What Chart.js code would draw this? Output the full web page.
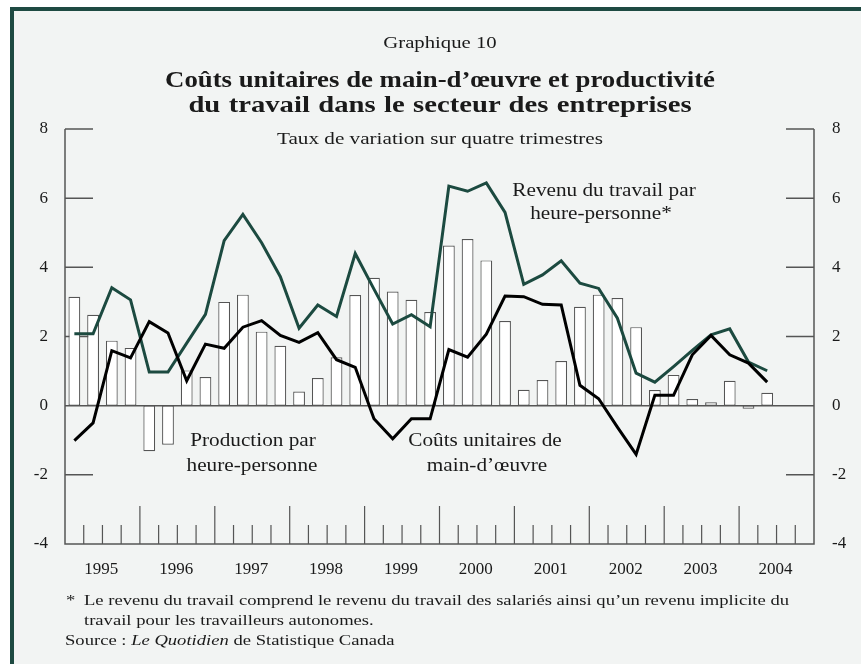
<!DOCTYPE html>
<html>
<head>
<meta charset="utf-8">
<script src="https://cdn.jsdelivr.net/npm/chart.js@4"></script>
<style>
  body { margin: 0; background: #fff; }
  #page { position: relative; width: 861px; height: 664px; overflow: hidden; background: #fff;
          font-family: "Liberation Serif", "Times New Roman", serif; color: #1a1a1a; }
  #frame { position: absolute; left: 10px; top: 7px; width: 900px; height: 700px;
           border: 4px solid #1e4a42; background: #f2f4f3; }
  canvas { position: absolute; left: 0; top: 0; }
  .t { position: absolute; white-space: nowrap; transform: translate(-50%, -50%) scaleX(1.18); text-align: center; }
  .n { position: absolute; white-space: nowrap; font-size: 15.5px; transform-origin: left center;
       transform: translateY(-50%) scaleX(1.2); }
</style>
</head>
<body>
<div id="page">
  <div id="frame"></div>
  <canvas id="chart" width="861" height="664"></canvas>

  <div class="t" style="left:440px; top:43px; font-size:17px; transform: translate(-50%, -50%) scaleX(1.22);">Graphique 10</div>
  <div class="t" style="left:440px; top:79px; font-size:23.5px; font-weight:bold; transform: translate(-50%, -50%) scaleX(1.14);">Coûts unitaires de main-d’œuvre et productivité</div>
  <div class="t" style="left:440px; top:104px; font-size:23.5px; font-weight:bold; word-spacing:1px; transform: translate(-50%, -50%) scaleX(1.22);">du travail dans le secteur des entreprises</div>
  <div class="t" style="left:440px; top:138px; font-size:17.5px; transform: translate(-50%, -50%) scaleX(1.21);">Taux de variation sur quatre trimestres</div>

  <div class="t" style="left:604px; top:190px; font-size:18px;">Revenu du travail par</div>
  <div class="t" style="left:601px; top:213px; font-size:18px;">heure-personne*</div>
  <div class="t" style="left:253px; top:440px; font-size:18px;">Production par</div>
  <div class="t" style="left:252px; top:465px; font-size:18px;">heure-personne</div>
  <div class="t" style="left:485px; top:440px; font-size:18px;">Coûts unitaires de</div>
  <div class="t" style="left:487px; top:465px; font-size:18px;">main-d’œuvre</div>

  <div class="n" style="left:66px; top:600px;">*</div>
  <div class="n" style="left:84px; top:600px;">Le revenu du travail comprend le revenu du travail des salariés ainsi qu’un revenu implicite du</div>
  <div class="n" style="left:84px; top:620px;">travail pour les travailleurs autonomes.</div>
  <div class="n" style="left:65px; top:640px;">Source : <i>Le Quotidien</i> de Statistique Canada</div>
</div>

<script>
const years = ['1995', '1996', '1997', '1998', '1999', '2000', '2001', '2002', '2003', '2004']
const yTicks = [-4, -2, 0, 2, 4, 6, 8]

// 1995T1 .. 2004T2, taux de variation sur quatre trimestres
const production = [3.15, 2.63, 1.88, 1.67, -1.32, -1.13, 1.02, 0.83, 3.00, 3.21,
                    2.14, 1.73, 0.41, 0.80, 1.40, 3.20, 3.70, 3.30, 3.06, 2.71,
                    4.63, 4.82, 4.20, 2.45, 0.46, 0.74, 1.29, 2.86, 3.21, 3.11,
                    2.27, 0.45, 0.89, 0.19, 0.10, 0.72, -0.09, 0.37]
const revenu = [2.08, 2.08, 3.41, 3.06, 0.97, 0.97, 1.81, 2.64, 4.77, 5.53,
                4.71, 3.73, 2.24, 2.91, 2.58, 4.40, 3.37, 2.36, 2.63, 2.28,
                6.35, 6.20, 6.44, 5.59, 3.51, 3.78, 4.19, 3.54, 3.39, 2.53,
                0.94, 0.68, 1.13, 1.60, 2.05, 2.22, 1.26, 1.01]
const couts = [-1.01, -0.50, 1.59, 1.38, 2.43, 2.10, 0.72, 1.78, 1.66, 2.27,
               2.46, 2.03, 1.83, 2.11, 1.33, 1.11, -0.38, -0.96, -0.38, -0.38,
               1.62, 1.40, 2.07, 3.17, 3.15, 2.93, 2.91, 0.59, 0.20, -0.62,
               -1.41, 0.30, 0.30, 1.47, 2.03, 1.47, 1.23, 0.68]

const quarters = years.flatMap(y => ['T1', 'T2', 'T3', 'T4'].map(q => y + q))

const axisColor = '#555'
const font = { family: '"Liberation Serif", "Times New Roman", serif', size: 17 }

// axes, inside ticks and quarter/year ticks
const frame = {
    id: 'frame',
    beforeDatasetsDraw(chart) {
        const { ctx, chartArea: a, scales } = chart
        const y = scales.y, x = scales.x
        ctx.save()
        ctx.strokeStyle = axisColor
        ctx.lineWidth = 1.5
        ctx.beginPath()
        ctx.moveTo(a.left, a.top); ctx.lineTo(a.left, a.bottom); ctx.lineTo(a.right, a.bottom); ctx.lineTo(a.right, a.top)
        yTicks.forEach(v => {
            const py = y.getPixelForValue(v)
            if (v === 0) {
                ctx.moveTo(a.left, py); ctx.lineTo(a.right, py)
            } else if (v > -4) {
                ctx.moveTo(a.left, py); ctx.lineTo(a.left + 28, py)
                ctx.moveTo(a.right - 28, py); ctx.lineTo(a.right, py)
            }
        })
        ctx.stroke()
        ctx.lineWidth = 1.2
        ctx.beginPath()
        for (let i = 1; i < quarters.length; i++) {
            const px = (x.getPixelForValue(i - 1) + x.getPixelForValue(i)) / 2
            const len = i % 4 === 0 ? 38 : 19
            ctx.moveTo(px, a.bottom); ctx.lineTo(px, a.bottom - len)
        }
        ctx.stroke()
        ctx.restore()
    }
}

const data = {
    labels: quarters,
    datasets: [
        {
            type: 'line',
            label: 'Coûts unitaires de main-d’œuvre',
            data: couts,
            borderColor: '#000',
            borderWidth: 3,
            pointRadius: 0,
            tension: 0,
            order: 1
        },
        {
            type: 'line',
            label: 'Revenu du travail par heure-personne',
            data: revenu,
            borderColor: '#1c4a40',
            borderWidth: 3,
            pointRadius: 0,
            tension: 0,
            order: 2
        },
        {
            type: 'bar',
            label: 'Production par heure-personne',
            data: production,
            backgroundColor: '#fff',
            borderColor: '#555',
            borderWidth: 1.2,
            borderSkipped: false,
            barPercentage: 0.63,
            categoryPercentage: 1,
            order: 3
        }
    ]
}

const options = {
    responsive: false,
    animation: false,
    layout: { padding: { top: 129, left: 0, right: 0, bottom: 0 } },
    plugins: {
        legend: { display: false },
        tooltip: { enabled: false }
    },
    scales: {
        x: {
            offset: true,
            grid: { display: false, drawTicks: false },
            border: { display: false },
            ticks: {
                autoSkip: false,
                maxRotation: 0,
                padding: 15,
                labelOffset: 27,
                color: '#1a1a1a',
                font,
                callback: (v, i) => i % 4 === 0 ? years[i / 4] : ''
            },
            afterFit: s => { s.height = 120 }
        },
        y: {
            position: 'left',
            min: -4, max: 8,
            grid: { display: false, drawTicks: false },
            border: { display: false },
            ticks: { stepSize: 2, padding: 17, color: '#1a1a1a', font },
            afterFit: s => { s.width = 65 }
        },
        y2: {
            position: 'right',
            min: -4, max: 8,
            grid: { display: false, drawTicks: false },
            border: { display: false },
            ticks: { stepSize: 2, padding: 18, color: '#1a1a1a', font },
            afterFit: s => { s.width = 47 }
        }
    }
}

new Chart('chart', { type: 'bar', data, options, plugins: [frame] })
</script>
</body>
</html>
